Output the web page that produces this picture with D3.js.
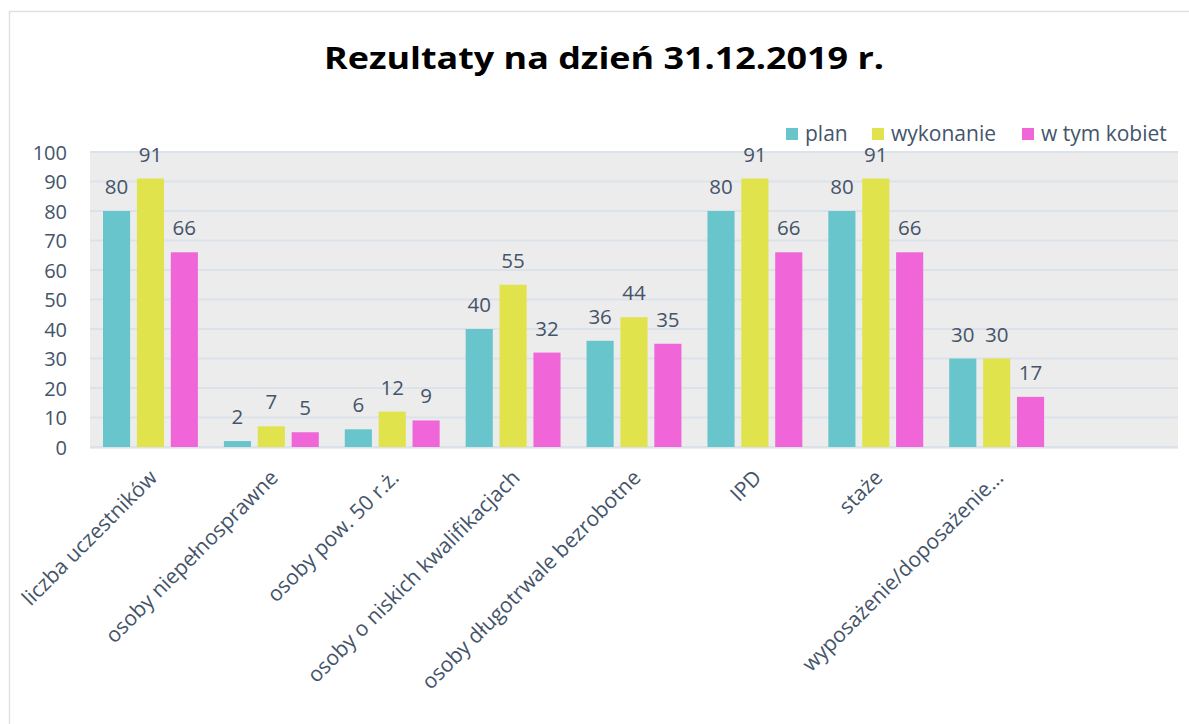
<!DOCTYPE html>
<html lang="pl">
<head>
<meta charset="utf-8">
<script src="https://cdn.jsdelivr.net/npm/d3@7"></script>
<style>
  html, body { margin: 0; padding: 0; background: #ffffff; }
  svg { display: block; }
  text { font-family: "Open Sans", "Noto Sans", sans-serif; }
</style>
</head>
<body>
<svg id="chart" width="1189" height="724"></svg>
<script>
// Categories (the last slot is an empty category kept in the axis)
const categories = [
  "liczba uczestników",
  "osoby niepełnosprawne",
  "osoby pow. 50 r.ż.",
  "osoby o niskich kwalifikacjach",
  "osoby długotrwale bezrobotne",
  "IPD",
  "staże",
  "wyposażenie/doposażenie...",
  ""
];
const seriesNames = ["plan", "wykonanie", "w tym kobiet"];
const planValues      = [80, 2, 6, 40, 36, 80, 80, 30, null];
const wykonanieValues = [91, 7, 12, 55, 44, 91, 91, 30, null];
const kobietValues    = [66, 5, 9, 32, 35, 66, 66, 17, null];
const yTicks = [0, 10, 20, 30, 40, 50, 60, 70, 80, 90, 100];
const seriesColors = ["#67c5cb", "#e0e34b", "#f066d8"];
const titleText = "Rezultaty na dzień 31.12.2019 r.";

const seriesValues = [planValues, wykonanieValues, kobietValues];
const rows = categories.map((c, i) => ({
  category: c,
  values: seriesNames.map((s, k) => ({ key: s, value: seriesValues[k][i] }))
}));

const svg = d3.select("#chart");
const textColor = "#44546a";

// outer frame
svg.append("path")
  .attr("d", "M9.5,724 L9.5,11.5 L1189,11.5")
  .attr("fill", "none")
  .attr("stroke", "#dde1e8")
  .attr("stroke-width", 1.5);

const plot = { left: 90, right: 1178, top: 152, bottom: 447 };

const x = d3.scaleBand().domain(categories).range([plot.left, plot.right]).paddingInner(0).paddingOuter(0);
const xSub = d3.scaleBand().domain(seriesNames).range([13, x.bandwidth() - 13]).paddingInner(0.2).paddingOuter(0);
const y = d3.scaleLinear().domain([0, 100]).range([plot.bottom, plot.top]);
const color = d3.scaleOrdinal().domain(seriesNames).range(seriesColors);

// plot background
svg.append("rect")
  .attr("x", plot.left).attr("y", plot.top - 1)
  .attr("width", plot.right - plot.left).attr("height", plot.bottom - plot.top + 3)
  .attr("fill", "#ececec");

// gridlines
svg.append("g")
  .selectAll("line")
  .data(yTicks)
  .join("line")
  .attr("x1", plot.left).attr("x2", plot.right)
  .attr("y1", d => y(d)).attr("y2", d => y(d))
  .attr("stroke", "#dce2ea")
  .attr("stroke-width", 2);

// y axis labels
const yAxis = d3.axisLeft(y).tickValues(yTicks).tickSize(0).tickPadding(0);
const yg = svg.append("g").attr("transform", "translate(67,0)").call(yAxis);
yg.select(".domain").remove();
yg.selectAll("text")
  .attr("fill", textColor)
  .style("font-size", "20px")
  .attr("x", 0)
  .attr("dy", "0.35em");

// bars
const groups = svg.append("g")
  .selectAll("g")
  .data(rows)
  .join("g")
  .attr("transform", d => `translate(${x(d.category)},0)`);

groups.selectAll("rect")
  .data(d => d.values.filter(v => v.value != null))
  .join("rect")
  .attr("x", d => xSub(d.key))
  .attr("width", xSub.bandwidth())
  .attr("y", d => y(d.value))
  .attr("height", d => y(0) - y(d.value))
  .attr("fill", d => color(d.key));

// value labels
groups.selectAll("text")
  .data(d => d.values.filter(v => v.value != null))
  .join("text")
  .attr("x", d => xSub(d.key) + xSub.bandwidth() / 2)
  .attr("y", d => y(d.value) - 17)
  .attr("text-anchor", "middle")
  .attr("fill", textColor)
  .style("font-size", "20.5px")
  .text(d => d.value);

// x axis labels, rotated
const xAxis = d3.axisBottom(x).tickSize(0).tickPadding(0);
const xg = svg.append("g").attr("transform", `translate(0,${plot.bottom})`).call(xAxis);
xg.select(".domain").remove();
xg.selectAll("text")
  .attr("fill", textColor)
  .style("font-size", "21px")
  .attr("text-anchor", "end")
  .attr("transform", "translate(8,32) rotate(-45)")
  .attr("x", 0).attr("y", 0).attr("dy", "0");

// legend
const legendX = [786, 872, 1022];
const legend = svg.append("g")
  .selectAll("g")
  .data(seriesNames)
  .join("g")
  .attr("transform", (d, i) => `translate(${legendX[i]},128)`);
legend.append("rect")
  .attr("width", 12).attr("height", 12)
  .attr("fill", d => color(d));
legend.append("text")
  .attr("x", 19).attr("y", 13)
  .attr("fill", textColor)
  .style("font-size", "21px")
  .text(d => d);

// title
svg.append("text")
  .attr("x", 604).attr("y", 69)
  .attr("text-anchor", "middle")
  .attr("fill", "#000000")
  .style("font-size", "31px")
  .style("font-weight", "700")
  .attr("textLength", 560)
  .attr("lengthAdjust", "spacingAndGlyphs")
  .text(titleText);
</script>
</body>
</html>
